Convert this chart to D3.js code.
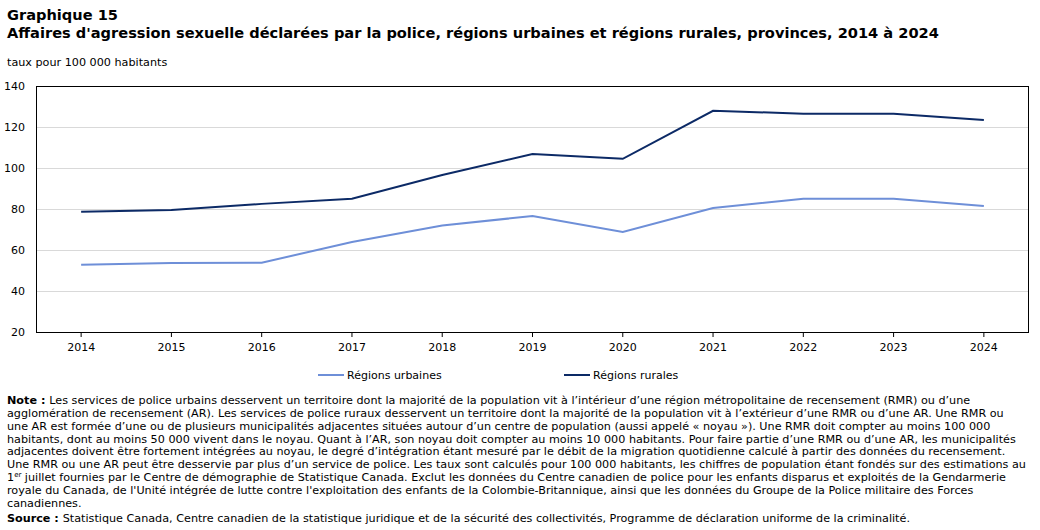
<!DOCTYPE html>
<html><head><meta charset="utf-8">
<script src="https://cdn.jsdelivr.net/npm/d3@7"></script>
<style>
body{margin:0;background:#fff;}
svg text{font-family:"DejaVu Sans",Verdana,sans-serif;fill:#000;}
</style></head>
<body><svg id="c" width="1040" height="530"></svg>
<script>
const years = [2014,2015,2016,2017,2018,2019,2020,2021,2022,2023,2024];
const urbaines = [52.8,53.7,53.8,63.9,71.9,76.6,68.8,80.5,85.0,85.0,81.5];
const rurales = [78.6,79.5,82.5,85.0,96.6,106.8,104.5,127.9,126.5,126.5,123.4];
const yTicks = [20,40,60,80,100,120,140];
const seriesNames = ["Régions urbaines","Régions rurales"];
const colors = ["#6e8fd8","#0c2a66"];
const noteLines = [
 ["Les services de police urbains desservent un territoire dont la majorité de la population vit à l’intérieur d’une région métropolitaine de recensement (RMR) ou d’une"],
 ["agglomération de recensement (AR). Les services de police ruraux desservent un territoire dont la majorité de la population vit à l’extérieur d’une RMR ou d’une AR. Une RMR ou"],
 ["une AR est formée d’une ou de plusieurs municipalités adjacentes situées autour d’un centre de population (aussi appelé « noyau »). Une RMR doit compter au moins 100 000"],
 ["habitants, dont au moins 50 000 vivent dans le noyau. Quant à l’AR, son noyau doit compter au moins 10 000 habitants. Pour faire partie d’une RMR ou d’une AR, les municipalités"],
 ["adjacentes doivent être fortement intégrées au noyau, le degré d’intégration étant mesuré par le débit de la migration quotidienne calculé à partir des données du recensement."],
 ["Une RMR ou une AR peut être desservie par plus d’un service de police. Les taux sont calculés pour 100 000 habitants, les chiffres de population étant fondés sur des estimations au"],
 ["juillet fournies par le Centre de démographie de Statistique Canada. Exclut les données du Centre canadien de police pour les enfants disparus et exploités de la Gendarmerie"],
 ["royale du Canada, de l'Unité intégrée de lutte contre l'exploitation des enfants de la Colombie-Britannique, ainsi que les données du Groupe de la Police militaire des Forces"],
 ["canadiennes."]
];
const sourceText = "Statistique Canada, Centre canadien de la statistique juridique et de la sécurité des collectivités, Programme de déclaration uniforme de la criminalité.";

const svg = d3.select("#c");
const L=36, R=1029, T=86, B=332;
const x = d3.scaleBand().domain(years).range([L,R]);
const y = d3.scaleLinear().domain([20,140]).range([B,T]);

svg.append("text").attr("x",7).attr("y",20).attr("font-size",14.6).attr("font-weight","bold").text("Graphique 15");
svg.append("text").attr("x",7).attr("y",38).attr("font-size",14.6).attr("font-weight","bold")
  .text("Affaires d'agression sexuelle déclarées par la police, régions urbaines et régions rurales, provinces, 2014 à 2024");
svg.append("text").attr("x",7).attr("y",66).attr("font-size",11.2).text("taux pour 100 000 habitants");

// grid
svg.append("g").selectAll("line").data(yTicks.slice(1,-1)).join("line")
  .attr("x1",L).attr("x2",R).attr("y1",d=>y(d)+0.5).attr("y2",d=>y(d)+0.5)
  .attr("stroke","#d9d9d9").attr("stroke-width",1);

// y labels
svg.append("g").selectAll("text").data(yTicks).join("text")
  .attr("x",25).attr("y",d=>y(d)+4).attr("text-anchor","end").attr("font-size",11).text(d=>d);

// x axis ticks
const xa = svg.append("g").attr("transform",`translate(0,${B})`)
  .call(d3.axisBottom(x).tickSize(5).tickPadding(6));
xa.select(".domain").remove();
xa.selectAll("line").attr("stroke","#000");
xa.selectAll("text").attr("font-size",11).attr("font-family","DejaVu Sans, Verdana, sans-serif").attr("fill","#000");

// frame
svg.append("rect").attr("x",L+0.5).attr("y",T+0.5).attr("width",R-L-1).attr("height",B-T)
  .attr("fill","none").attr("stroke","#000").attr("stroke-width",1);

const line = d3.line().x((d,i)=>x(years[i])+x.bandwidth()/2).y(d=>y(d));
[urbaines,rurales].forEach((s,i)=>{
  svg.append("path").attr("d",line(s)).attr("fill","none").attr("stroke",colors[i]).attr("stroke-width",2);
});

// legend
const legX=[318,564];
seriesNames.forEach((n,i)=>{
  svg.append("line").attr("x1",legX[i]).attr("x2",legX[i]+26).attr("y1",375).attr("y2",375)
    .attr("stroke",colors[i]).attr("stroke-width",2);
  svg.append("text").attr("x",legX[i]+29).attr("y",379).attr("font-size",11).text(n);
});

// notes
const lh=12.85, y0=404, fs=11.2;
noteLines.forEach((l,i)=>{
  const t = svg.append("text").attr("x",7).attr("y",y0+i*lh).attr("font-size",fs);
  if(i===0){ t.append("tspan").attr("font-weight","bold").text("Note\u00a0: "); }
  if(i===6){ t.append("tspan").text("1"); t.append("tspan").attr("font-size",7).attr("dy",-4).text("er");
             t.append("tspan").attr("dy",4).text(" "+l[0]); }
  else t.append("tspan").text(l[0]);
});
const ts = svg.append("text").attr("x",7).attr("y",y0+9*lh+2).attr("font-size",fs);
ts.append("tspan").attr("font-weight","bold").text("Source\u00a0: ");
ts.append("tspan").text(sourceText);
</script></body></html>
